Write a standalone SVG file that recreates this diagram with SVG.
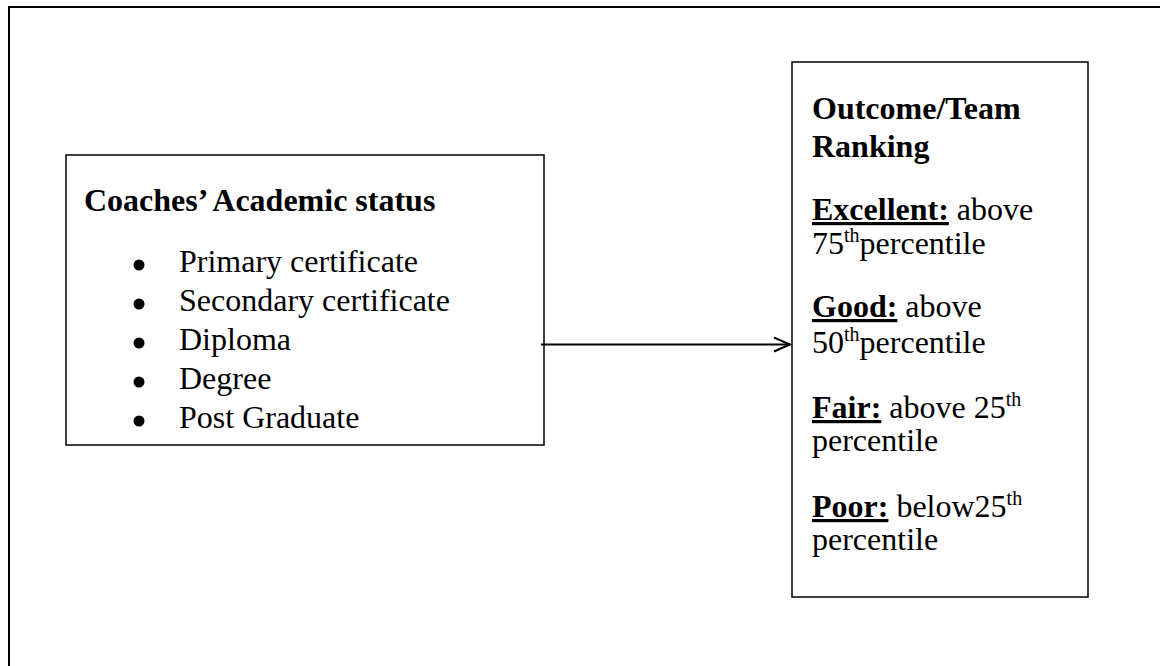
<svg xmlns="http://www.w3.org/2000/svg" width="1160" height="666" viewBox="0 0 1160 666">
<defs>
<style>
.box{fill:#fff;stroke:#000;stroke-width:1.5}
.t{font-family:"Liberation Serif","Times New Roman",serif;font-size:32px;fill:#000}
.b{font-weight:bold}
.u{text-decoration:underline}
.sup{font-size:20px}
</style>
<marker id="arr" markerWidth="20" markerHeight="20" refX="17" refY="8" orient="auto" markerUnits="userSpaceOnUse">
<path d="M1,1 L17,8 L1,15" fill="none" stroke="#000" stroke-width="2"/>
</marker>
</defs>
<rect width="1160" height="666" fill="#fff"/>
<rect x="9" y="7" width="1170" height="680" fill="none" stroke="#000" stroke-width="2"/>
<g id="node-academic">
<rect class="box" x="66" y="155" width="478" height="290"/>
<text class="t b" x="84" y="211">Coaches’ Academic status</text>
<circle cx="139" cy="265" r="5.5"/>
<circle cx="139" cy="304" r="5.5"/>
<circle cx="139" cy="343" r="5.5"/>
<circle cx="139" cy="382" r="5.5"/>
<circle cx="139" cy="421" r="5.5"/>
<text class="t" x="179" y="272">Primary certificate</text>
<text class="t" x="179" y="311">Secondary certificate</text>
<text class="t" x="179" y="350">Diploma</text>
<text class="t" x="179" y="389">Degree</text>
<text class="t" x="179" y="428">Post Graduate</text>
</g>
<g id="node-outcome">
<rect class="box" x="792" y="62" width="296" height="535"/>
<text class="t b" x="812" y="119">Outcome/Team</text>
<text class="t b" x="812" y="157">Ranking</text>
<text class="t" x="812" y="220"><tspan class="b u">Excellent:</tspan> above</text>
<text class="t" x="812" y="254">75<tspan class="sup" dy="-12">th</tspan><tspan dy="12">percentile</tspan></text>
<text class="t" x="812" y="317"><tspan class="b u">Good:</tspan> above</text>
<text class="t" x="812" y="353">50<tspan class="sup" dy="-12">th</tspan><tspan dy="12">percentile</tspan></text>
<text class="t" x="812" y="418"><tspan class="b u">Fair:</tspan> above 25<tspan class="sup" dy="-12">th</tspan></text>
<text class="t" x="812" y="451">percentile</text>
<text class="t" x="812" y="517"><tspan class="b u">Poor:</tspan> below25<tspan class="sup" dy="-12">th</tspan></text>
<text class="t" x="812" y="550">percentile</text>
</g>
<g id="connectors">
<line x1="541" y1="344.5" x2="790" y2="344.5" stroke="#000" stroke-width="2" marker-end="url(#arr)"/>
</g>
</svg>
